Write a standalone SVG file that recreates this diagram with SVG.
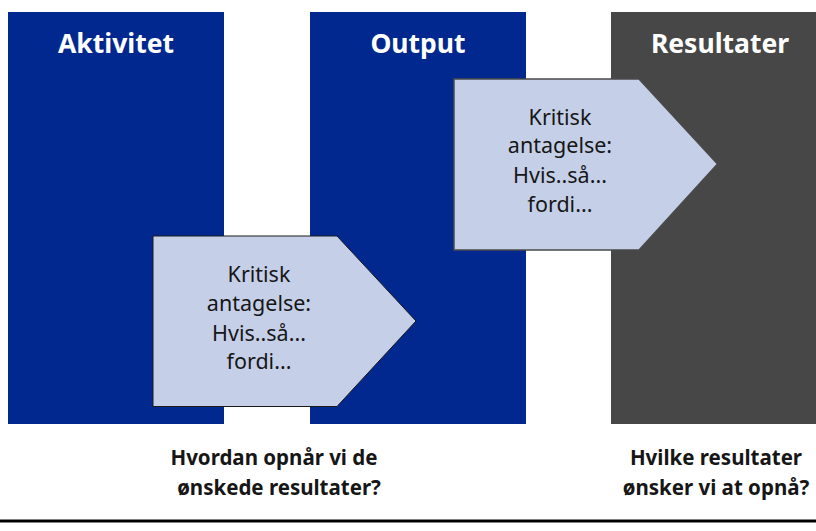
<svg xmlns="http://www.w3.org/2000/svg" width="816" height="531" viewBox="0 0 816 531">
<style>
.col-blue{fill:#00288f}
.col-gray{fill:#474747}
.hdr{font-family:"Noto Sans","Open Sans",sans-serif;font-weight:700;font-size:26.5px;fill:#ffffff;text-anchor:middle}
.ptxt{font-family:"Noto Sans","Open Sans",sans-serif;font-size:21.5px;fill:#161616;text-anchor:middle}
.q{font-family:"Noto Sans","Open Sans",sans-serif;font-weight:700;font-size:20.5px;fill:#161616;text-anchor:middle}
.pent{fill:#c5d0e8}
</style>
<rect width="816" height="531" fill="#ffffff"/>
<g id="aktivitet">
<rect class="col-blue" x="8" y="12" width="216" height="412"/>
<text class="hdr" x="116" y="53">Aktivitet</text>
</g>
<g id="output">
<rect class="col-blue" x="310" y="12" width="216" height="412"/>
<text class="hdr" x="418" y="53">Output</text>
</g>
<g id="resultater">
<rect class="col-gray" x="611" y="12" width="205" height="412"/>
<text class="hdr" x="720" y="53">Resultater</text>
</g>
<g id="antagelse1">
<polygon class="pent" points="153,236 337,236 416,321 337,406.5 153,406.5" stroke="#1a1a1a" stroke-width="1"/>
<text class="ptxt" x="259" y="282">Kritisk</text>
<text class="ptxt" x="259" y="311">antagelse:</text>
<text class="ptxt" x="259" y="341">Hvis..så...</text>
<text class="ptxt" x="259" y="369">fordi...</text>
</g>
<g id="antagelse2">
<polygon class="pent" points="454,79 639,79 717.5,164 639,250 454,250" stroke="#4a4a4a" stroke-width="1.5"/>
<text class="ptxt" x="560" y="125">Kritisk</text>
<text class="ptxt" x="560" y="153">antagelse:</text>
<text class="ptxt" x="560" y="183">Hvis..så...</text>
<text class="ptxt" x="560" y="212">fordi...</text>
</g>
<g id="spoergsmaal1">
<text class="q" x="274" y="465">Hvordan opnår vi de</text>
<text class="q" x="279" y="495">ønskede resultater?</text>
</g>
<g id="spoergsmaal2">
<text class="q" x="716" y="465">Hvilke resultater</text>
<text class="q" x="716" y="495">ønsker vi at opnå?</text>
</g>
<g id="connectors">
<line x1="0" y1="521" x2="816" y2="521" stroke="#000000" stroke-width="3"/>
</g>
</svg>
